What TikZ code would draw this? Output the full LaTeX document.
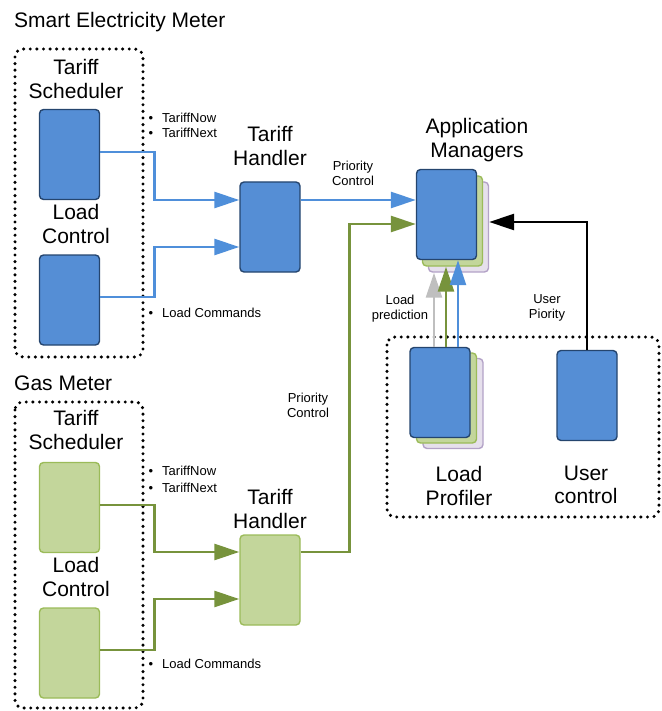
\documentclass[tikz,border=0pt]{standalone}
\usepackage{fontspec}
\setmainfont{Liberation Sans}
\usetikzlibrary{arrows.meta,positioning}
\definecolor{unitblue}{HTML}{558ED5}
\definecolor{unitblueline}{HTML}{25456E}
\definecolor{unitgreen}{HTML}{C3D69B}
\definecolor{unitgreenline}{HTML}{9BBB59}
\definecolor{unitpurple}{HTML}{E6E0EC}
\definecolor{unitpurpleline}{HTML}{B3A2C7}
\definecolor{flowblue}{HTML}{4F8FDA}
\definecolor{flowgreen}{HTML}{77933C}
\definecolor{flowgray}{HTML}{BFBFBF}

\begin{document}
\begin{tikzpicture}[x=1pt,y=-1pt]
\tikzset{
    unit box/.style={
       rounded corners=4pt,
       line width=1.4pt,
       minimum width=60pt,
       minimum height=90pt,
       inner sep=0pt
    },
    blue box/.style={unit box, fill=unitblue, draw=unitblueline},
    green box/.style={unit box, fill=unitgreen, draw=unitgreenline},
    purple box/.style={unit box, fill=unitpurple, draw=unitpurpleline},
    big label/.style={
       font=\fontsize{21pt}{23.5pt}\selectfont,
       align=center,
       inner sep=0pt
    },
    small label/.style={
       font=\fontsize{13pt}{15pt}\selectfont,
       align=center,
       inner sep=0pt
    },
    bullet label/.style={
       font=\fontsize{13pt}{15pt}\selectfont,
       anchor=base west,
       inner sep=0pt
    },
    meter frame/.style={
       line width=3.4pt,
       line cap=round,
       dash pattern=on 0pt off 6.6pt,
       rounded corners=8pt
    },
    flow/.style={
       line width=2.6pt,
       -{Triangle[length=25pt,width=16pt]}
    }
}
%
\useasboundingbox (0,0) rectangle (661,711);
%
\node[big label, anchor=base west] (eTitle) at (14,28) {Smart Electricity Meter};
\draw[meter frame] (15,49) rectangle (143,357);
\node[big label] (etsLabel) at (76,79) {Tariff\\Scheduler};
\node[big label] (elcLabel) at (76,224) {Load\\Control};
\node[big label] (ethLabel) at (270,146) {Tariff\\Handler};
\node[blue box] (eTS) at (69.5,154.5) {};
\node[blue box] (eLC) at (69.5,300) {};
\node[blue box] (eTH) at (270,227) {};
\node[bullet label] (eNow) at (148.4,122.7) {\makebox[13.6pt][l]{\textbullet}TariffNow};
\node[bullet label] (eNext) at (148.4,137.3) {\makebox[13.6pt][l]{\textbullet}TariffNext};
\node[bullet label] (eCmd) at (148.4,317) {\makebox[13.6pt][l]{\textbullet}Load Commands};
%
\node[big label, anchor=base west] (gTitle) at (14,390) {Gas Meter};
\draw[meter frame] (15,402) rectangle (143,708);
\node[big label] (gtsLabel) at (76,430) {Tariff\\Scheduler};
\node[big label] (glcLabel) at (76,577) {Load\\Control};
\node[big label] (gthLabel) at (270,509) {Tariff\\Handler};
\node[green box] (gTS) at (69.5,507.5) {};
\node[green box] (gLC) at (69.5,653) {};
\node[green box] (gTH) at (270,580) {};
\node[bullet label] (gNow) at (148.4,475) {\makebox[13.6pt][l]{\textbullet}TariffNow};
\node[bullet label] (gNext) at (148.4,492) {\makebox[13.6pt][l]{\textbullet}TariffNext};
\node[bullet label] (gCmd) at (148.4,668) {\makebox[13.6pt][l]{\textbullet}Load Commands};
%
\node[big label] (amLabel) at (477,140) {Application\\Managers};
\node[purple box] (amC) at (458.5,227) {};
\node[green box] (amB) at (452.5,221) {};
\node[blue box] (amA) at (446.5,214.5) {};
%
\draw[meter frame] (387,337) rectangle (659,517);
\node[purple box] (lpC) at (453,403.5) {};
\node[green box] (lpB) at (446.5,398) {};
\node[blue box] (lpA) at (440,392.5) {};
\node[blue box] (ucA) at (587,395.5) {};
\node[big label] (lpLabel) at (459,486) {Load\\Profiler};
\node[big label] (ucLabel) at (586,485) {User\\control};
%
\node[small label] (ePrio) at (353,173) {Priority\\Control};
\node[small label] (gPrio) at (308,405) {Priority\\Control};
\node[small label] (lpredLabel) at (400,308.5) {Load\\prediction};
\node[small label] (uprioLabel) at (547,308) {User\\Piority};
%
\draw[flow, flowblue] ([yshift=2.5pt]eTS.east) -- ++(54.5,0) |- ([yshift=27pt]eTH.west);
\draw[flow, flowblue] ([yshift=3pt]eLC.east) -- ++(54.5,0) |- ([yshift=-20pt]eTH.west);
\draw[flow, flowblue] ([yshift=27pt]eTH.east) -- ([yshift=14.5pt]amA.west);
\draw[flow, flowgreen] ([yshift=2.5pt]gTS.east) -- ++(54.5,0) |- ([yshift=28pt]gTH.west);
\draw[flow, flowgreen] ([yshift=3pt]gLC.east) -- ++(54.5,0) |- ([yshift=-19pt]gTH.west);
\draw[flow, flowgreen] ([yshift=28pt]gTH.east) -- ++(49,0) |- ([yshift=-9.5pt]amA.west);
\draw[flow, flowgray] ([xshift=-6pt]lpA.north) -- ([xshift=-6pt]lpA.north |- amC.south);
\draw[flow, flowgreen] ([xshift=6pt]lpA.north) -- ([xshift=6pt]lpA.north |- amB.south);
\draw[flow, flowblue] ([xshift=18pt]lpA.north) -- ([xshift=18pt]lpA.north |- amA.south);
\draw[flow, black, line width=2.8pt] (ucA.north) |- ([yshift=5pt]amC.east);
\end{tikzpicture}
\end{document}
